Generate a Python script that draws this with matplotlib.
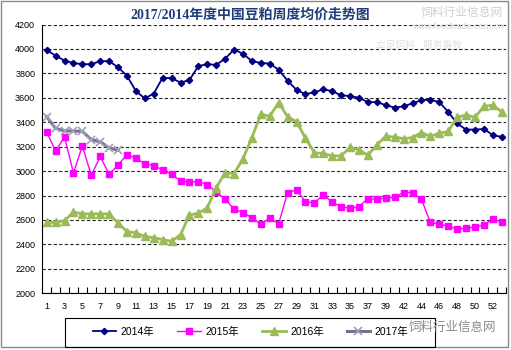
import numpy as np
import matplotlib.pyplot as plt
from matplotlib.patches import Rectangle

plt.rcParams['font.family'] = ['Liberation Sans', 'Noto Sans CJK SC']

# week numbers on the category axis (41 is missing in the source)
weeks = list(range(1, 41)) + list(range(42, 54))

p2014 = [3990, 3945, 3905, 3885, 3875, 3875, 3900, 3900, 3850, 3780,
         3655, 3595, 3635, 3765, 3760, 3725, 3745, 3860, 3875, 3870,
         3920, 3995, 3960, 3900, 3885, 3880, 3830, 3740, 3665, 3630,
         3645, 3670, 3655, 3620, 3615, 3600, 3565, 3565, 3540, 3520,
         3530, 3555, 3580, 3585, 3565, 3485, 3390, 3340, 3340, 3345,
         3295, 3280]
p2015 = [3320, 3165, 3280, 2985, 3205, 2965, 3120, 2975, 3050, 3135,
         3105, 3060, 3045, 3010, 2975, 2920, 2910, 2915, 2890, 2830,
         2770, 2690, 2660, 2620, 2565, 2615, 2570, 2825, 2845, 2750,
         2740, 2805, 2745, 2710, 2695, 2710, 2775, 2770, 2780, 2785,
         2825, 2825, 2770, 2580, 2565, 2550, 2525, 2535, 2540, 2560,
         2605, 2585]
p2016 = [2580, 2580, 2595, 2665, 2650, 2650, 2650, 2650, 2575, 2505,
         2495, 2465, 2455, 2440, 2425, 2480, 2640, 2655, 2700, 2865,
         2985, 2980, 3100, 3275, 3465, 3450, 3560, 3445, 3405, 3270,
         3150, 3145, 3125, 3125, 3195, 3175, 3130, 3215, 3285, 3280,
         3265, 3275, 3315, 3285, 3310, 3325, 3440, 3460, 3440, 3530,
         3540, 3485]
p2017 = [3445, 3350, 3330, 3328, 3325, 3258, 3240, 3190, 3172]

x = np.arange(len(weeks))

fig = plt.figure(figsize=(5.11, 3.5), dpi=100)
fig.patches.append(Rectangle((0.002, 0.009), 0.992, 0.988, transform=fig.transFigure,
                             fill=False, edgecolor='#8a8a8a', lw=1))

ax = fig.add_axes([0.0826, 0.162, 0.908, 0.768])
ax.plot(x, p2014, color='#000080', lw=1.3, marker='D', ms=3.2, label='2014年')
ax.plot(x, p2015, color='#ff00ff', lw=1, marker='s', ms=5, label='2015年')
ax.plot(x, p2016, color='#9bbb59', lw=2, marker='^', ms=6, label='2016年')
ax.plot(x[:len(p2017)], p2017, color='#77738f', lw=2.2, marker='x', ms=6,
        mec='#a29ebb', mew=1.2, label='2017年')

ax.set_xlim(-0.5, len(weeks) - 0.5)
ax.set_ylim(2000, 4200)
ax.set_yticks(np.arange(2000, 4201, 200))
ax.set_xticks(x[::2])
ax.set_xticklabels([str(w) for w in weeks[::2]])
ax.set_xticks(np.arange(-0.5, len(weeks)), minor=True)
ax.tick_params(axis='x', which='major', length=0, pad=6, labelsize=6.5)
ax.tick_params(axis='x', which='minor', direction='in', length=4, width=0.8)
ax.tick_params(axis='y', length=0, pad=5, labelsize=6.5)
ax.grid(axis='y', ls=(0, (3, 2)), color='#222222', lw=0.8)
ax.set_axisbelow(True)
ax.spines['top'].set_visible(False)
ax.spines['right'].set_visible(False)

fig.text(0.49, 0.958, '2017/2014年度中国豆粕周度均价走势图', ha='center', va='center',
         fontsize=10, fontweight='bold', color='#1f3d7a',
         family=['Liberation Serif', 'Noto Sans CJK SC'])

# watermarks
fig.text(0.985, 0.962, '饲料行业信息网', ha='right', va='center', fontsize=8.5, color='#cfcfcf')
fig.text(0.985, 0.925, 'www.feedtrade.com.cn', ha='right', va='center', fontsize=6.5, color='#d5d5d5')
fig.text(0.82, 0.873, '立足饲料   服务畜牧', ha='center', va='center', fontsize=7,
         color='#e0e0e0', style='italic')

# legend box
fig.patches.append(Rectangle((65 / 511, 0.009), 370 / 511, 29 / 350, transform=fig.transFigure,
                             fill=False, edgecolor='black', lw=0.8))
fig.legend(loc='center', bbox_to_anchor=(0.49, 0.052), ncol=4, frameon=False,
           fontsize=7.5, handlelength=2.3, columnspacing=2.2, handletextpad=0.4)

fig.text(0.885, 0.063, '饲料行业信息网', ha='center', va='center', fontsize=9,
         color='#8c8c8c', zorder=10)

fig.savefig('out.png', dpi=100)
